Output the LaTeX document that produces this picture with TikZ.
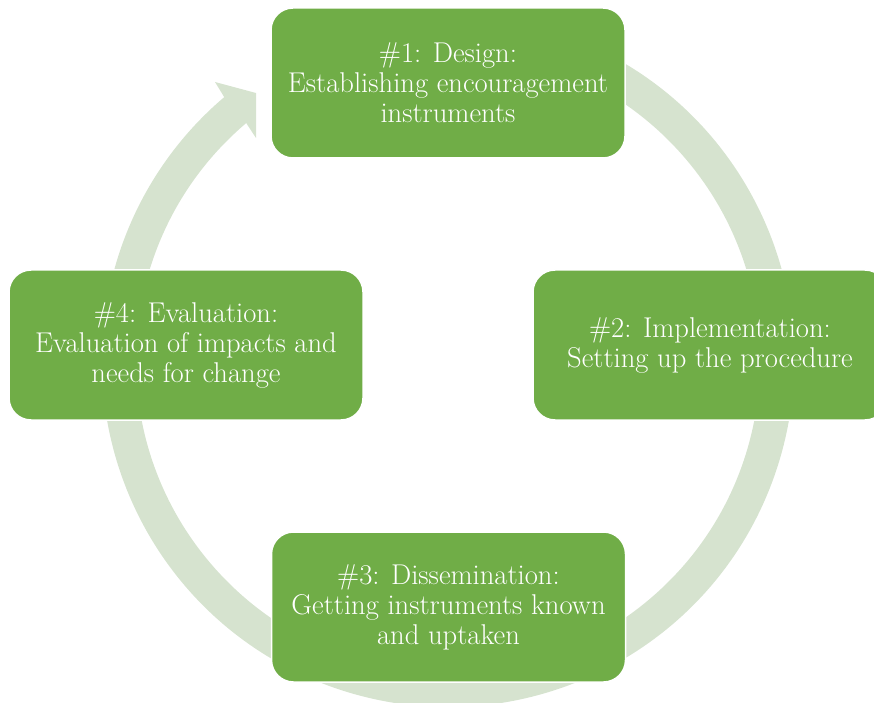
\documentclass[tikz,border=0pt]{standalone}
\usepackage{fontspec}
\usetikzlibrary{calc}
\definecolor{stagegreen}{HTML}{70AD47}
\definecolor{ringgreen}{HTML}{D6E3CF}
\tikzset{
  stagebox/.style={fill=stagegreen, draw=white, line width=1.5pt,
    rounded corners=22pt, minimum width=354pt, minimum height=150pt,
    text=white, align=center, inner sep=0pt,
    font=\fontsize{28.6}{30}\selectfont},
  ring/.style={fill=ringgreen}
}
\begin{document}
\begin{tikzpicture}[x=1pt,y=1pt]
  \useasboundingbox (0,0) rectangle (874,702);
  \clip (0,0) rectangle (874,702);
  \coordinate (c) at (448,341);
  % circular arrow running clockwise, head ending next to stage 1
  \fill[ring] ($(c)+(70:346)$) arc[start angle=70, end angle=-229.7, radius=346pt]
    -- (215,620) -- (256,609) -- (256,564)
    -- ($(c)+(-229.7:312)$) arc[start angle=-229.7, end angle=70, radius=312pt]
    -- cycle;
  % the four stages
  \node[stagebox] (s1) at (448,619) {\#1: Design:\\Establishing encouragement\\instruments};
  \node[stagebox] (s2) at (710,357) {\#2: Implementation:\\Setting up the procedure};
  \node[stagebox] (s3) at (448.5,95) {\#3: Dissemination:\\Getting instruments known\\and uptaken};
  \node[stagebox] (s4) at (186,357) {\#4: Evaluation:\\Evaluation of impacts and\\needs for change};
\end{tikzpicture}
\end{document}
